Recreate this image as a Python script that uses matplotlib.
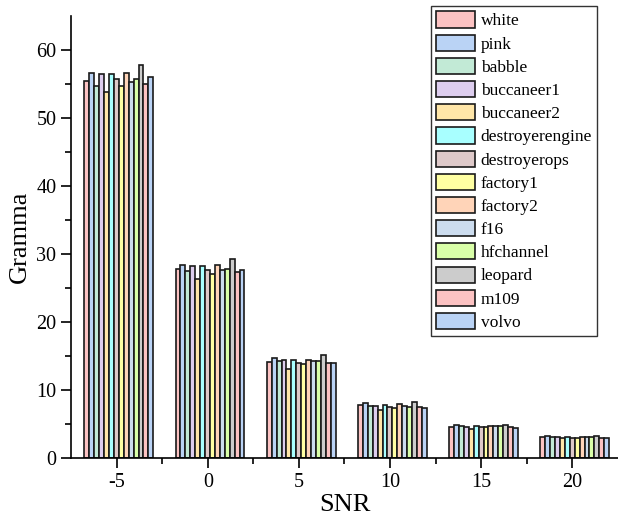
import matplotlib
matplotlib.use("Agg")
import matplotlib.pyplot as plt  # noqa: E402
import numpy as np  # noqa: E402

snr = ["-5", "0", "5", "10", "15", "20"]
noises = ["white", "pink", "babble", "buccaneer1", "buccaneer2",
          "destroyerengine", "destroyerops", "factory1", "factory2",
          "f16", "hfchannel", "leopard", "m109", "volvo"]
colors = ["#FCC2C2", "#BAD3F5", "#C2EAD6", "#DDCDEE", "#FFE6A8",
          "#A8FFFF", "#DEC9C9", "#FFFFA2", "#FFD4B8", "#CCDCEE",
          "#D9FFA8", "#CCCCCC", "#FCC2C2", "#BAD3F5"]

# one row per noise type, one column per SNR
gamma = [
    [55.4, 27.8, 14.1, 7.8, 4.6, 3.1],   # white
    [56.6, 28.4, 14.7, 8.1, 4.8, 3.2],   # pink
    [54.7, 27.5, 14.3, 7.6, 4.7, 3.1],   # babble
    [56.5, 28.2, 14.4, 7.6, 4.6, 3.1],   # buccaneer1
    [53.8, 26.3, 13.1, 7.0, 4.3, 2.9],   # buccaneer2
    [56.5, 28.2, 14.4, 7.8, 4.7, 3.1],   # destroyerengine
    [55.7, 27.6, 14.0, 7.5, 4.6, 3.0],   # destroyerops
    [54.7, 27.1, 13.8, 7.4, 4.5, 3.0],   # factory1
    [56.6, 28.4, 14.4, 7.9, 4.7, 3.1],   # factory2
    [55.3, 27.6, 14.3, 7.6, 4.7, 3.1],   # f16
    [55.7, 27.8, 14.3, 7.5, 4.7, 3.1],   # hfchannel
    [57.8, 29.3, 15.1, 8.2, 4.9, 3.2],   # leopard
    [55.0, 27.4, 14.0, 7.5, 4.5, 3.0],   # m109
    [56.0, 27.6, 14.0, 7.4, 4.4, 3.0],   # volvo
]

plt.rcParams["font.family"] = "Liberation Serif"

fig = plt.figure(figsize=(6.18, 5.19), dpi=100)
ax = fig.add_axes([71 / 618, 61 / 519, 547 / 618, 442 / 519])

x = np.arange(len(snr))
w = 0.054
n = len(noises)
for i, (name, vals) in enumerate(zip(noises, gamma)):
    off = (i - (n - 1) / 2) * w + 0.025
    ax.bar(x + off, vals, width=w, color=colors[i], edgecolor="#1a1a1a",
           linewidth=1.2, label=name)

ax.set_xlim(-0.5, 5.5)
ax.set_ylim(0, 65)
ax.set_xticks(x)
ax.set_xticklabels(snr)
ax.set_xticks(x[:-1] + 0.5, minor=True)
ax.set_yticks(np.arange(0, 61, 10))
ax.set_yticks(np.arange(5, 65, 10), minor=True)
ax.tick_params(which="major", direction="out", length=7, width=1.2,
               labelsize=14.5)
ax.tick_params(which="minor", direction="out", length=4, width=1.2)
for s in ["top", "right"]:
    ax.spines[s].set_visible(False)
for s in ["left", "bottom"]:
    ax.spines[s].set_linewidth(1.2)

ax.set_xlabel("SNR", fontsize=19, labelpad=2)
ax.set_ylabel("Gramma", fontsize=19, labelpad=4)

leg = ax.legend(loc="upper right", bbox_to_anchor=(0.962, 1.022),
                fontsize=12.5, handlelength=2.2, handleheight=1.05,
                labelspacing=0.3, handletextpad=0.35, borderpad=0.3,
                borderaxespad=0.0,
                fancybox=False, framealpha=1, edgecolor="#333333")
leg.get_frame().set_linewidth(1.0)

fig.savefig("out.png", dpi=100)
